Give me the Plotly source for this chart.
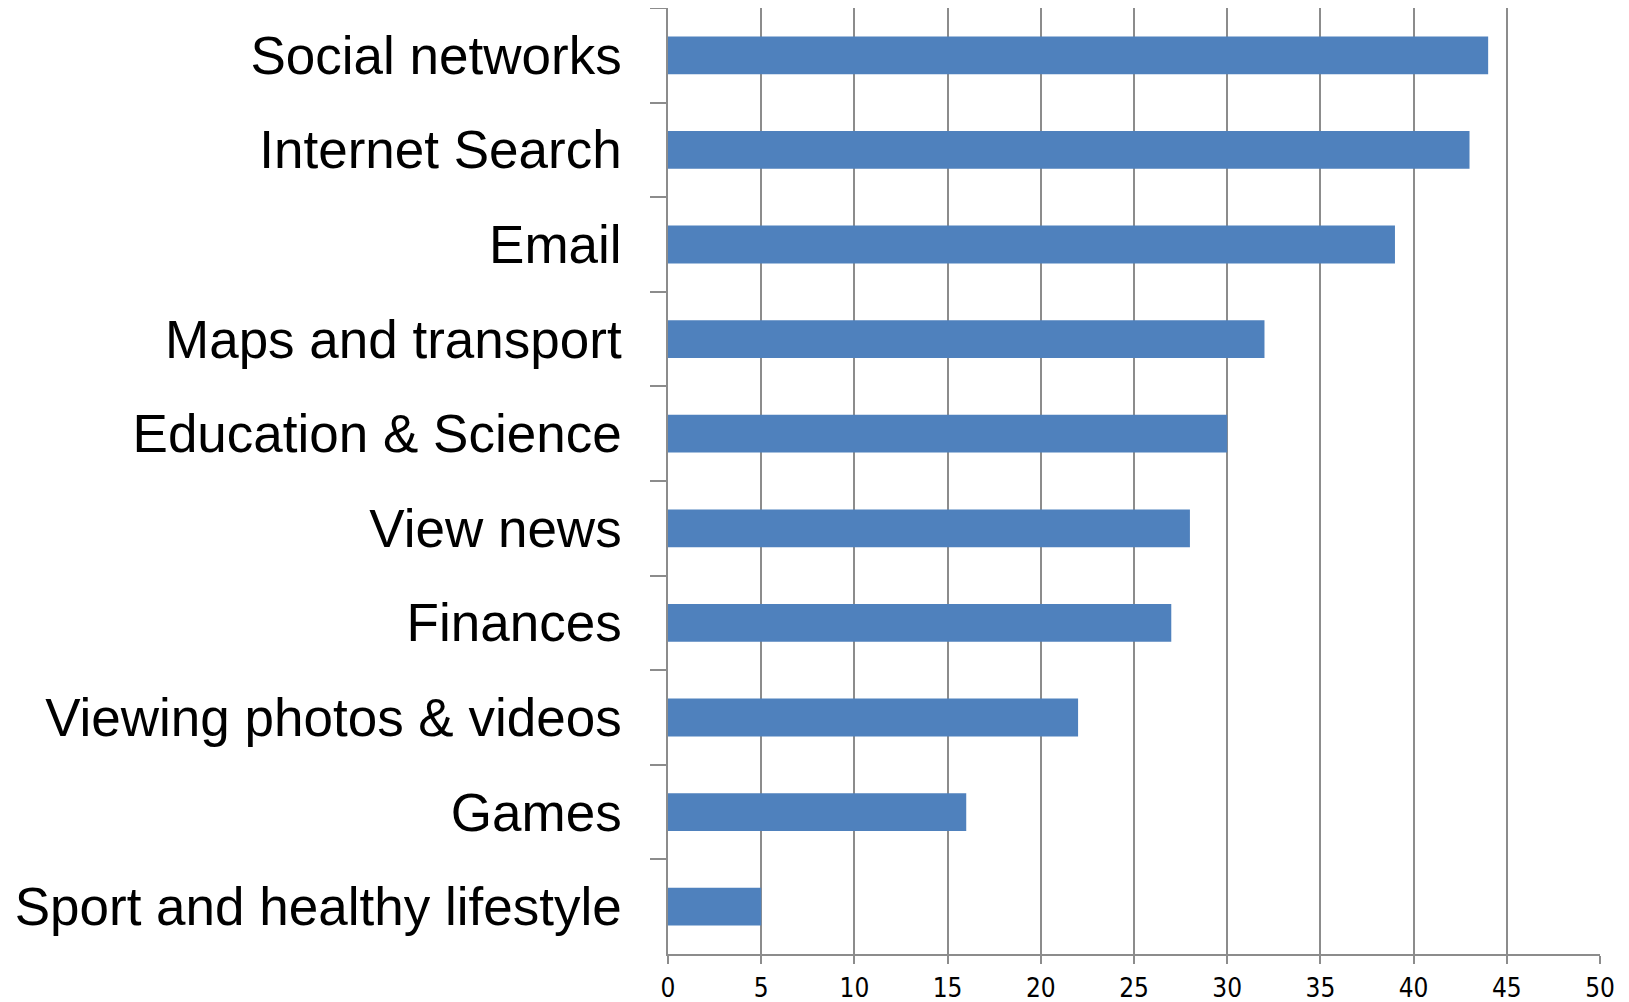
import plotly.graph_objects as go

categories = ["Social networks", "Internet Search", "Email", "Maps and transport",
              "Education & Science", "View news", "Finances",
              "Viewing photos & videos", "Games", "Sport and healthy lifestyle"]
values = [44, 43, 39, 32, 30, 28, 27, 22, 16, 5]
x_ticks = [0, 5, 10, 15, 20, 25, 30, 35, 40, 45, 50]

fig = go.Figure(go.Bar(
    x=values, y=categories, orientation="h",
    marker=dict(color="#4F81BD", line=dict(width=0)),
))

axis_gray = "#8C8C8C"
fig.update_layout(
    width=1621, height=994,
    margin=dict(l=660, r=29, t=0, b=48),
    paper_bgcolor="white", plot_bgcolor="white",
    bargap=0.6, showlegend=False,
    font=dict(family="Liberation Sans, Arial", color="black"),
)
fig.update_xaxes(
    range=[0, 50], tickvals=x_ticks, ticktext=[str(v) for v in x_ticks],
    showgrid=True, gridcolor=axis_gray, gridwidth=1.5,
    showline=True, linecolor=axis_gray, linewidth=1.5,
    ticks="outside", ticklen=8, tickcolor=axis_gray, tickwidth=1.5,
    tickfont=dict(family="Liberation Sans Narrow, DejaVu Sans Condensed, Liberation Sans", size=26, color="black"),
    ticklabelstandoff=2,
    zeroline=False, fixedrange=True,
)
fig.update_yaxes(
    type="category", autorange="reversed", tickson="boundaries",
    showgrid=False, showline=True, linecolor=axis_gray, linewidth=1.5,
    ticks="outside", ticklen=16, tickcolor=axis_gray, tickwidth=1.5,
    tickfont=dict(family="Liberation Sans, Arial", size=53, color="black"),
    ticklabelstandoff=34,
)

fig.write_html("out.html")
